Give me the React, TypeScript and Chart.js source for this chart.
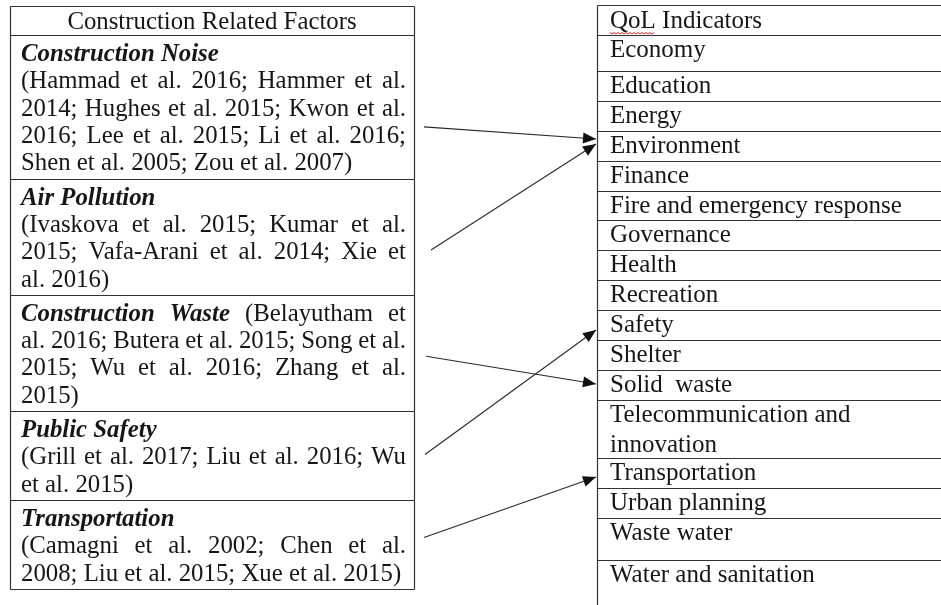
import React, { useEffect, useRef } from "react";
import { Chart, registerables } from "chart.js";

Chart.register(...registerables);

// ---------------- data ----------------
const factorHeader = "Construction Related Factors";
const indicatorHeader = "QoL Indicators";

const factorTitles = [
  "Construction Noise",
  "Air Pollution",
  "Construction Waste",
  "Public Safety",
  "Transportation",
];

// true when the citation text continues on the same line as the title
const titleInline = [false, false, true, false, false];

const noiseCitations = [
  "(Hammad et al. 2016; Hammer et al.",
  "2014; Hughes et al. 2015; Kwon et al.",
  "2016; Lee et al. 2015; Li et al. 2016;",
  "Shen et al. 2005; Zou et al. 2007)",
];
const airCitations = [
  "(Ivaskova et al. 2015; Kumar et al.",
  "2015; Vafa-Arani et al. 2014; Xie et",
  "al. 2016)",
];
const wasteCitations = [
  "(Belayutham et",
  "al. 2016; Butera et al. 2015; Song et al.",
  "2015; Wu et al. 2016; Zhang et al.",
  "2015)",
];
const safetyCitations = [
  "(Grill et al. 2017; Liu et al. 2016; Wu",
  "et al. 2015)",
];
const transportCitations = [
  "(Camagni et al. 2002; Chen et al.",
  "2008; Liu et al. 2015; Xue et al. 2015)",
];
const citationLines = [
  noiseCitations,
  airCitations,
  wasteCitations,
  safetyCitations,
  transportCitations,
];

const indicators = [
  ["Economy"],
  ["Education"],
  ["Energy"],
  ["Environment"],
  ["Finance"],
  ["Fire and emergency response"],
  ["Governance"],
  ["Health"],
  ["Recreation"],
  ["Safety"],
  ["Shelter"],
  ["Solid  waste"],
  ["Telecommunication and", "innovation"],
  ["Transportation"],
  ["Urban planning"],
  ["Waste water"],
  ["Water and sanitation"],
];

// arrows: factor index -> indicator index
const linkFrom = [0, 1, 2, 3, 4];
const linkTo = [3, 3, 11, 9, 13];

// ---------------- layout ----------------
const W = 941;
const H = 605;
const FAMILY = '"Liberation Serif", "Times New Roman", serif';
const FS_L = 24.8;
const FS_R = 25;
const REG = `${FS_L}px ${FAMILY}`;
const BI = `italic bold ${FS_L}px ${FAMILY}`;
const REG_R = `${FS_R}px ${FAMILY}`;
const L_X0 = 10;
const L_X1 = 414;
const TEXT_X0 = 21;
const TEXT_X1 = 406;
const L_TOP = 6;
const HEAD_H = 29;
const LINE_H = 27.3;
const ROW_PAD = 7;
const TEXT_TOP_OFF = 6;
const R_TOP = 5;
const R_X0 = 597;
const R_TEXT = 610;
// header row + every indicator row except the open last one
const rightRowHeights = [30, 36, 30, 30, 30, 30, 29, 30, 30, 30, 30, 30, 30, 58, 30, 30, 42];
const R_TEXT_OFF = 15.5;
const R_LINE_H = 30;
const arrowStartGap = [10, 17, 12, 11, 10];
const arrowStartFrac = [0.64, 0.615, 0.53, 0.49, 0.425];
const arrowEndOffset = [8, 13, 14, 20, 19];
const BORDER = "#333";
const TEXT = "#161616";

function leftRows() {
  const rows: { top: number; h: number; n: number }[] = [];
  let y = L_TOP + HEAD_H;
  for (let i = 0; i < factorTitles.length; i++) {
    const n = citationLines[i].length + (titleInline[i] ? 0 : 1);
    const h = n * LINE_H + ROW_PAD;
    rows.push({ top: y, h, n });
    y += h;
  }
  return rows;
}

function rightTops() {
  const tops: number[] = [R_TOP];
  let y = R_TOP;
  for (const h of rightRowHeights) {
    y += h;
    tops.push(y);
  }
  return tops;
}

type Word = { t: string; f: string };

function drawWords(
  ctx: CanvasRenderingContext2D,
  words: Word[],
  x0: number,
  x1: number,
  y: number,
  justify: boolean
) {
  const widths = words.map((w) => {
    ctx.font = w.f;
    return ctx.measureText(w.t).width;
  });
  ctx.font = REG;
  let gap = ctx.measureText(" ").width;
  const total = widths.reduce((a, b) => a + b, 0);
  if (justify && words.length > 1) gap = Math.max(gap * 0.6, (x1 - x0 - total) / (words.length - 1));
  let x = x0;
  words.forEach((w, i) => {
    ctx.font = w.f;
    ctx.fillText(w.t, x, y);
    x += widths[i] + gap;
  });
}

const toWords = (s: string, f: string): Word[] =>
  s.split(" ").filter((t) => t.length).map((t) => ({ t, f }));

const tablePlugin = {
  id: "tables",
  beforeDatasetsDraw(chart: any) {
    const ctx: CanvasRenderingContext2D = chart.ctx;
    const xs = chart.scales.x;
    const ys = chart.scales.y;
    const px = (v: number) => Math.round(xs.getPixelForValue(v)) + 0.5;
    const py = (v: number) => Math.round(ys.getPixelForValue(v)) + 0.5;
    const tx = (v: number) => xs.getPixelForValue(v);
    const ty = (v: number) => ys.getPixelForValue(v);
    ctx.save();
    ctx.fillStyle = "#fff";
    ctx.fillRect(0, 0, chart.width, chart.height);

    // ---- left table ----
    const rows = leftRows();
    const bottom = rows[rows.length - 1].top + rows[rows.length - 1].h;
    ctx.strokeStyle = BORDER;
    ctx.lineWidth = 1.2;
    ctx.beginPath();
    ctx.moveTo(px(L_X0), py(L_TOP));
    ctx.lineTo(px(L_X0), py(bottom));
    ctx.moveTo(px(L_X1), py(L_TOP));
    ctx.lineTo(px(L_X1), py(bottom));
    ctx.moveTo(px(L_X0), py(L_TOP));
    ctx.lineTo(px(L_X1), py(L_TOP));
    ctx.moveTo(px(L_X0), py(L_TOP + HEAD_H));
    ctx.lineTo(px(L_X1), py(L_TOP + HEAD_H));
    rows.forEach((r) => {
      ctx.moveTo(px(L_X0), py(r.top + r.h));
      ctx.lineTo(px(L_X1), py(r.top + r.h));
    });
    ctx.stroke();

    ctx.fillStyle = TEXT;
    ctx.textBaseline = "middle";
    ctx.textAlign = "left";
    ctx.font = REG;
    const hw = ctx.measureText(factorHeader).width;
    ctx.fillText(factorHeader, tx((L_X0 + L_X1) / 2) - hw / 2, ty(L_TOP + HEAD_H / 2 + 1.5));

    rows.forEach((r, i) => {
      const lines: Word[][] = [];
      if (titleInline[i]) {
        citationLines[i].forEach((s, k) => {
          const w = toWords(s, REG);
          lines.push(k === 0 ? [...toWords(factorTitles[i], BI), ...w] : w);
        });
      } else {
        lines.push(toWords(factorTitles[i], BI));
        citationLines[i].forEach((s) => lines.push(toWords(s, REG)));
      }
      lines.forEach((ln, k) => {
        const isTitleOnly = !titleInline[i] && k === 0;
        const isLast = k === lines.length - 1;
        const y = ty(r.top + TEXT_TOP_OFF + (k + 0.5) * LINE_H);
        drawWords(ctx, ln, tx(TEXT_X0), tx(TEXT_X1), y, !isTitleOnly && !isLast);
      });
    });

    // ---- right table ----
    const tops = rightTops();
    ctx.beginPath();
    ctx.moveTo(px(R_X0), py(R_TOP));
    ctx.lineTo(px(R_X0), H);
    for (let k = 0; k < tops.length; k++) {
      ctx.moveTo(px(R_X0), py(tops[k]));
      ctx.lineTo(W, py(tops[k]));
    }
    ctx.stroke();

    ctx.font = REG_R;
    ctx.fillText(indicatorHeader, tx(R_TEXT), ty(R_TOP + 16.5));
    // spell-check squiggle under "QoL"
    const qw = ctx.measureText("QoL").width;
    ctx.strokeStyle = "#e0281f";
    ctx.lineWidth = 1;
    ctx.beginPath();
    const sy = ty(R_TOP + 27.5);
    for (let x = 0; x <= qw; x += 2) {
      const yy = sy + ((x / 2) % 2 === 0 ? 0 : 1.5);
      if (x === 0) ctx.moveTo(tx(R_TEXT) + x, yy);
      else ctx.lineTo(tx(R_TEXT) + x, yy);
    }
    ctx.stroke();

    indicators.forEach((lines, i) => {
      const top = tops[i + 1];
      lines.forEach((s, k) => {
        ctx.fillText(s, tx(R_TEXT), ty(top + R_TEXT_OFF + k * R_LINE_H));
      });
    });
    ctx.restore();
  },
  afterDatasetsDraw(chart: any) {
    const ctx: CanvasRenderingContext2D = chart.ctx;
    ctx.save();
    ctx.fillStyle = "#111";
    chart.data.datasets.forEach((_: any, i: number) => {
      const meta = chart.getDatasetMeta(i);
      const p0 = meta.data[0];
      const p1 = meta.data[1];
      if (!p0 || !p1) return;
      const a = Math.atan2(p1.y - p0.y, p1.x - p0.x);
      const len = 13;
      const hw = 5.5;
      const bx = p1.x - Math.cos(a) * len;
      const by = p1.y - Math.sin(a) * len;
      ctx.beginPath();
      ctx.moveTo(p1.x, p1.y);
      ctx.lineTo(bx - Math.sin(a) * hw, by + Math.cos(a) * hw);
      ctx.lineTo(bx + Math.sin(a) * hw, by - Math.cos(a) * hw);
      ctx.closePath();
      ctx.fill();
    });
    ctx.restore();
  },
};

export default function App() {
  const ref = useRef<HTMLCanvasElement | null>(null);

  useEffect(() => {
    if (!ref.current) return;
    const rows = leftRows();
    const tops = rightTops();
    const datasets = linkFrom.map((f, i) => {
      const r = rows[f];
      const start = { x: L_X1 + arrowStartGap[i], y: r.top + arrowStartFrac[i] * r.h };
      const end = { x: R_X0 - 1, y: tops[linkTo[i] + 1] + arrowEndOffset[i] };
      return {
        type: "line" as const,
        label: `${factorTitles[f]} → ${indicators[linkTo[i]].join(" ")}`,
        data: [start, end],
        borderColor: "#2a2a2a",
        borderWidth: 1.1,
        pointRadius: 0,
        showLine: true,
        fill: false,
      };
    });
    const chart = new Chart(ref.current, {
      type: "scatter",
      data: { datasets },
      options: {
        animation: false,
        responsive: false,
        maintainAspectRatio: false,
        events: [],
        layout: { padding: 0 },
        plugins: { legend: { display: false }, tooltip: { enabled: false }, title: { display: false } },
        scales: {
          x: { type: "linear", min: 0, max: W, display: false },
          y: { type: "linear", min: 0, max: H, reverse: true, display: false },
        },
      },
      plugins: [tablePlugin],
    });
    return () => chart.destroy();
  }, []);

  return (
    <div style={{ position: "fixed", left: 0, top: 0, width: W, height: H, background: "#fff" }}>
      <canvas ref={ref} width={W} height={H} style={{ display: "block" }} />
    </div>
  );
}
